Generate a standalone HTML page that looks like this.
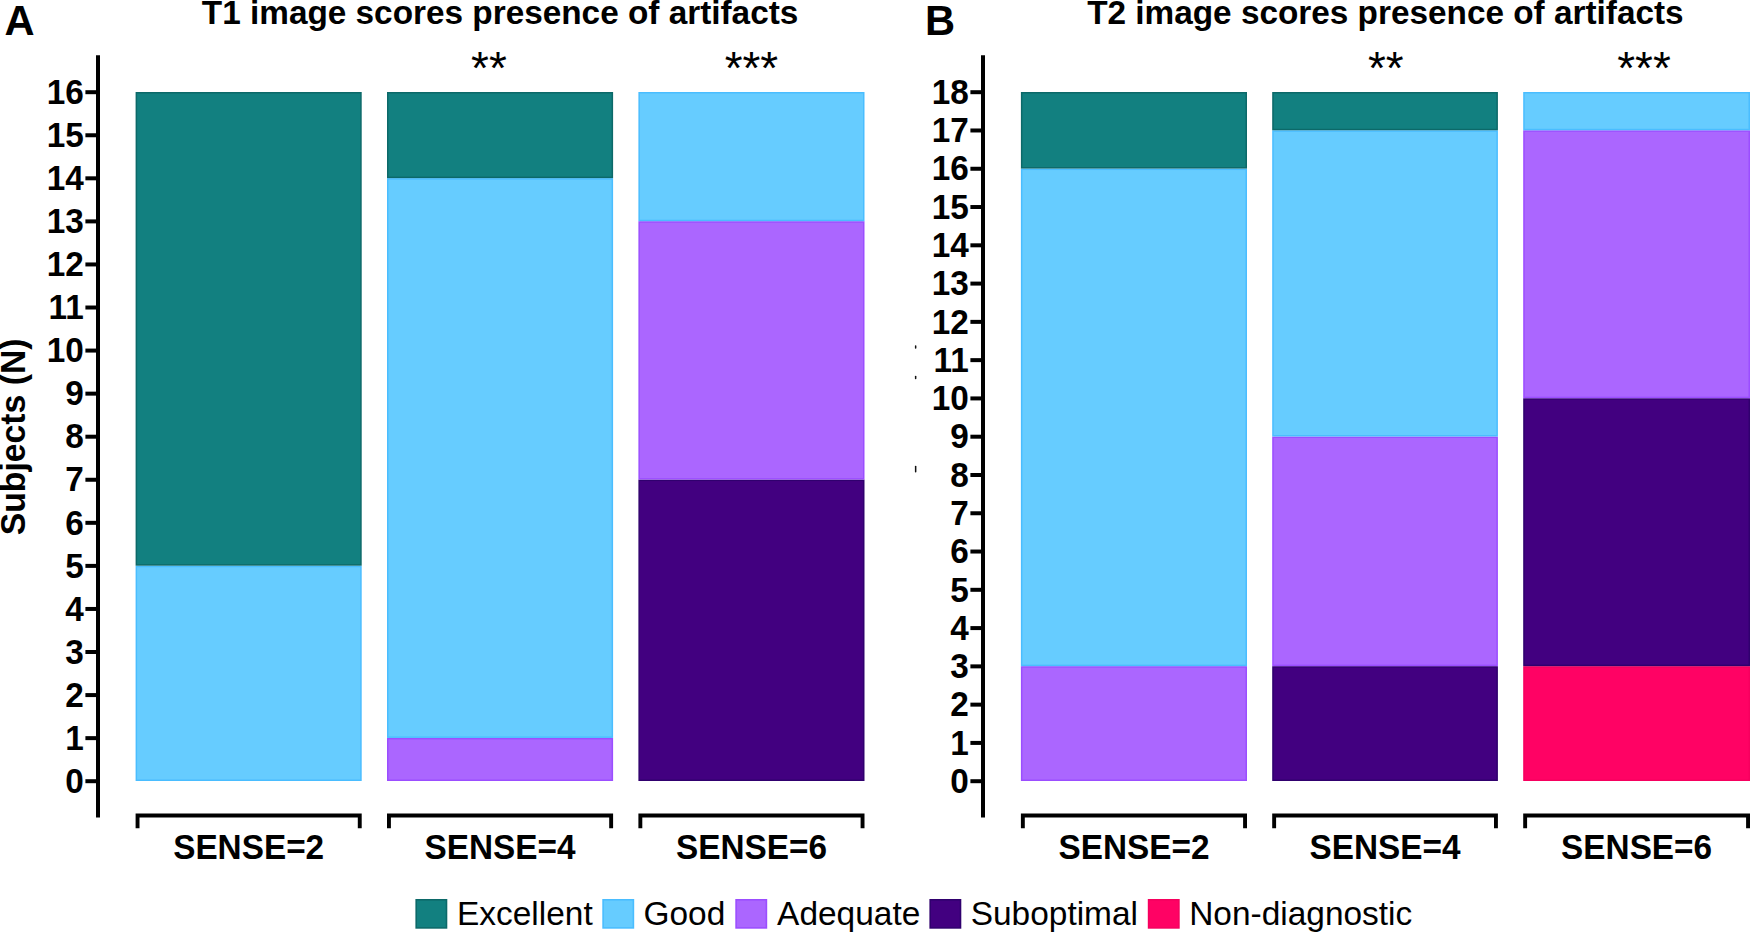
<!DOCTYPE html>
<html lang="en"><head><meta charset="utf-8"><title>Image scores presence of artifacts</title>
<style>
html,body{margin:0;padding:0;background:#fff;}
body{width:1750px;height:934px;overflow:hidden;}
svg{display:block;font-family:'Liberation Sans', sans-serif;fill:#000;}
.b{font-weight:bold;}
.tk{font-weight:bold;font-size:33.33px;text-anchor:end;}
.cat{font-weight:bold;font-size:33.33px;text-anchor:middle;}
.ttl{font-weight:bold;font-size:33.33px;text-anchor:middle;}
.pl{font-weight:bold;font-size:41.67px;}
.st{font-size:45.83px;text-anchor:middle;}
.lg{font-size:33.45px;}
.ax{stroke:#000;stroke-width:4.0;fill:none;}
</style></head><body>
<svg width="1750" height="934" viewBox="0 0 1750 934">
<rect x="0" y="0" width="1750" height="934" fill="#fff"/>
<rect x="136.35" y="566.44" width="224.60" height="213.81" fill="#66CCFF" stroke="#4ABDFF" stroke-width="1.5"/>
<rect x="136.35" y="92.75" width="224.60" height="472.19" fill="#128080" stroke="#0C6969" stroke-width="1.5"/>
<rect x="387.75" y="738.69" width="224.60" height="41.56" fill="#AB66FF" stroke="#9B4EFF" stroke-width="1.5"/>
<rect x="387.75" y="178.88" width="224.60" height="558.31" fill="#66CCFF" stroke="#4ABDFF" stroke-width="1.5"/>
<rect x="387.75" y="92.75" width="224.60" height="84.62" fill="#128080" stroke="#0C6969" stroke-width="1.5"/>
<rect x="639.15" y="480.31" width="224.60" height="299.94" fill="#420080" stroke="#30006E" stroke-width="1.5"/>
<rect x="639.15" y="221.94" width="224.60" height="256.88" fill="#AB66FF" stroke="#9B4EFF" stroke-width="1.5"/>
<rect x="639.15" y="92.75" width="224.60" height="127.69" fill="#66CCFF" stroke="#4ABDFF" stroke-width="1.5"/>
<path class="ax" d="M98.0 55.3V817.5"/>
<path class="ax" d="M85.40 781.20H98.00"/>
<text class="tk" transform="translate(83.80 792.90) scale(1 1.04)">0</text>
<path class="ax" d="M85.40 738.14H98.00"/>
<text class="tk" transform="translate(83.80 749.84) scale(1 1.04)">1</text>
<path class="ax" d="M85.40 695.08H98.00"/>
<text class="tk" transform="translate(83.80 706.77) scale(1 1.04)">2</text>
<path class="ax" d="M85.40 652.01H98.00"/>
<text class="tk" transform="translate(83.80 663.71) scale(1 1.04)">3</text>
<path class="ax" d="M85.40 608.95H98.00"/>
<text class="tk" transform="translate(83.80 620.65) scale(1 1.04)">4</text>
<path class="ax" d="M85.40 565.89H98.00"/>
<text class="tk" transform="translate(83.80 577.59) scale(1 1.04)">5</text>
<path class="ax" d="M85.40 522.83H98.00"/>
<text class="tk" transform="translate(83.80 534.52) scale(1 1.04)">6</text>
<path class="ax" d="M85.40 479.76H98.00"/>
<text class="tk" transform="translate(83.80 491.46) scale(1 1.04)">7</text>
<path class="ax" d="M85.40 436.70H98.00"/>
<text class="tk" transform="translate(83.80 448.40) scale(1 1.04)">8</text>
<path class="ax" d="M85.40 393.64H98.00"/>
<text class="tk" transform="translate(83.80 405.34) scale(1 1.04)">9</text>
<path class="ax" d="M85.40 350.57H98.00"/>
<text class="tk" transform="translate(83.80 362.27) scale(1 1.04)">10</text>
<path class="ax" d="M85.40 307.51H98.00"/>
<text class="tk" transform="translate(83.80 319.21) scale(1 1.04)">11</text>
<path class="ax" d="M85.40 264.45H98.00"/>
<text class="tk" transform="translate(83.80 276.15) scale(1 1.04)">12</text>
<path class="ax" d="M85.40 221.39H98.00"/>
<text class="tk" transform="translate(83.80 233.09) scale(1 1.04)">13</text>
<path class="ax" d="M85.40 178.32H98.00"/>
<text class="tk" transform="translate(83.80 190.03) scale(1 1.04)">14</text>
<path class="ax" d="M85.40 135.26H98.00"/>
<text class="tk" transform="translate(83.80 146.96) scale(1 1.04)">15</text>
<path class="ax" d="M85.40 92.20H98.00"/>
<text class="tk" transform="translate(83.80 103.90) scale(1 1.04)">16</text>
<path class="ax" style="stroke-width:3.9" d="M137.55 828.3V815.5H359.75V828.3"/>
<text class="cat" transform="translate(248.65 858.8) scale(1 1.04)">SENSE=2</text>
<path class="ax" style="stroke-width:3.9" d="M388.95 828.3V815.5H611.15V828.3"/>
<text class="cat" transform="translate(500.05 858.8) scale(1 1.04)">SENSE=4</text>
<path class="ax" style="stroke-width:3.9" d="M640.35 828.3V815.5H862.55V828.3"/>
<text class="cat" transform="translate(751.45 858.8) scale(1 1.04)">SENSE=6</text>
<text class="ttl" x="500.1" y="23.6">T1 image scores presence of artifacts</text>
<text class="pl" transform="translate(4.6 34.8) scale(1 1.02)">A</text>
<text class="st" x="488.9" y="84.4">**</text>
<text class="st" x="751.4" y="84.4">***</text>
<rect x="1021.65" y="666.92" width="224.60" height="113.33" fill="#AB66FF" stroke="#9B4EFF" stroke-width="1.5"/>
<rect x="1021.65" y="169.31" width="224.60" height="496.11" fill="#66CCFF" stroke="#4ABDFF" stroke-width="1.5"/>
<rect x="1021.65" y="92.75" width="224.60" height="75.06" fill="#128080" stroke="#0C6969" stroke-width="1.5"/>
<rect x="1272.95" y="666.92" width="224.20" height="113.33" fill="#420080" stroke="#30006E" stroke-width="1.5"/>
<rect x="1272.95" y="437.25" width="224.20" height="228.17" fill="#AB66FF" stroke="#9B4EFF" stroke-width="1.5"/>
<rect x="1272.95" y="131.03" width="224.20" height="304.72" fill="#66CCFF" stroke="#4ABDFF" stroke-width="1.5"/>
<rect x="1272.95" y="92.75" width="224.20" height="36.78" fill="#128080" stroke="#0C6969" stroke-width="1.5"/>
<rect x="1523.95" y="666.92" width="225.30" height="113.33" fill="#FF0264" stroke="#F6005E" stroke-width="1.5"/>
<rect x="1523.95" y="398.97" width="225.30" height="266.44" fill="#420080" stroke="#30006E" stroke-width="1.5"/>
<rect x="1523.95" y="131.03" width="225.30" height="266.44" fill="#AB66FF" stroke="#9B4EFF" stroke-width="1.5"/>
<rect x="1523.95" y="92.75" width="225.30" height="36.78" fill="#66CCFF" stroke="#4ABDFF" stroke-width="1.5"/>
<path class="ax" d="M983.0 55.3V817.5"/>
<path class="ax" d="M970.40 781.20H983.00"/>
<text class="tk" transform="translate(968.80 792.90) scale(1 1.04)">0</text>
<path class="ax" d="M970.40 742.92H983.00"/>
<text class="tk" transform="translate(968.80 754.62) scale(1 1.04)">1</text>
<path class="ax" d="M970.40 704.64H983.00"/>
<text class="tk" transform="translate(968.80 716.34) scale(1 1.04)">2</text>
<path class="ax" d="M970.40 666.37H983.00"/>
<text class="tk" transform="translate(968.80 678.07) scale(1 1.04)">3</text>
<path class="ax" d="M970.40 628.09H983.00"/>
<text class="tk" transform="translate(968.80 639.79) scale(1 1.04)">4</text>
<path class="ax" d="M970.40 589.81H983.00"/>
<text class="tk" transform="translate(968.80 601.51) scale(1 1.04)">5</text>
<path class="ax" d="M970.40 551.53H983.00"/>
<text class="tk" transform="translate(968.80 563.23) scale(1 1.04)">6</text>
<path class="ax" d="M970.40 513.26H983.00"/>
<text class="tk" transform="translate(968.80 524.96) scale(1 1.04)">7</text>
<path class="ax" d="M970.40 474.98H983.00"/>
<text class="tk" transform="translate(968.80 486.68) scale(1 1.04)">8</text>
<path class="ax" d="M970.40 436.70H983.00"/>
<text class="tk" transform="translate(968.80 448.40) scale(1 1.04)">9</text>
<path class="ax" d="M970.40 398.42H983.00"/>
<text class="tk" transform="translate(968.80 410.12) scale(1 1.04)">10</text>
<path class="ax" d="M970.40 360.14H983.00"/>
<text class="tk" transform="translate(968.80 371.84) scale(1 1.04)">11</text>
<path class="ax" d="M970.40 321.87H983.00"/>
<text class="tk" transform="translate(968.80 333.57) scale(1 1.04)">12</text>
<path class="ax" d="M970.40 283.59H983.00"/>
<text class="tk" transform="translate(968.80 295.29) scale(1 1.04)">13</text>
<path class="ax" d="M970.40 245.31H983.00"/>
<text class="tk" transform="translate(968.80 257.01) scale(1 1.04)">14</text>
<path class="ax" d="M970.40 207.03H983.00"/>
<text class="tk" transform="translate(968.80 218.73) scale(1 1.04)">15</text>
<path class="ax" d="M970.40 168.76H983.00"/>
<text class="tk" transform="translate(968.80 180.46) scale(1 1.04)">16</text>
<path class="ax" d="M970.40 130.48H983.00"/>
<text class="tk" transform="translate(968.80 142.18) scale(1 1.04)">17</text>
<path class="ax" d="M970.40 92.20H983.00"/>
<text class="tk" transform="translate(968.80 103.90) scale(1 1.04)">18</text>
<path class="ax" style="stroke-width:3.9" d="M1022.85 828.3V815.5H1245.05V828.3"/>
<text class="cat" transform="translate(1133.95 858.8) scale(1 1.04)">SENSE=2</text>
<path class="ax" style="stroke-width:3.9" d="M1274.15 828.3V815.5H1495.95V828.3"/>
<text class="cat" transform="translate(1385.05 858.8) scale(1 1.04)">SENSE=4</text>
<path class="ax" style="stroke-width:3.9" d="M1525.15 828.3V815.5H1748.05V828.3"/>
<text class="cat" transform="translate(1636.60 858.8) scale(1 1.04)">SENSE=6</text>
<text class="ttl" x="1385.4" y="23.6">T2 image scores presence of artifacts</text>
<text class="pl" transform="translate(925.0 34.8) scale(1 1.02)">B</text>
<text class="st" x="1385.8" y="84.4">**</text>
<text class="st" x="1644.0" y="84.4">***</text>
<text class="b" font-size="33.75" text-anchor="middle" transform="translate(24.5 436.9) rotate(-90) scale(1 1.03)">Subjects (N)</text>
<rect x="416.20" y="899.8" width="30.3" height="28.1" fill="#128080" stroke="#0C6969" stroke-width="1.6"/>
<text class="lg" x="457.0" y="925.4">Excellent</text>
<rect x="603.10" y="899.8" width="30.3" height="28.1" fill="#66CCFF" stroke="#4ABDFF" stroke-width="1.6"/>
<text class="lg" x="643.5" y="925.4">Good</text>
<rect x="736.10" y="899.8" width="30.3" height="28.1" fill="#AB66FF" stroke="#9B4EFF" stroke-width="1.6"/>
<text class="lg" x="777.1" y="925.4">Adequate</text>
<rect x="930.20" y="899.8" width="30.3" height="28.1" fill="#420080" stroke="#30006E" stroke-width="1.6"/>
<text class="lg" x="970.7" y="925.4">Suboptimal</text>
<rect x="1148.60" y="899.8" width="30.3" height="28.1" fill="#FF0264" stroke="#F6005E" stroke-width="1.6"/>
<text class="lg" x="1189.2" y="925.4">Non-diagnostic</text>
<rect x="914.9" y="345.3" width="1.5" height="3.4" rx="0.7" fill="#111"/>
<rect x="914.9" y="375.8" width="1.5" height="3.4" rx="0.7" fill="#111"/>
<rect x="914.9" y="465.8" width="1.5" height="6.6" rx="0.7" fill="#111"/>
</svg></body></html>
